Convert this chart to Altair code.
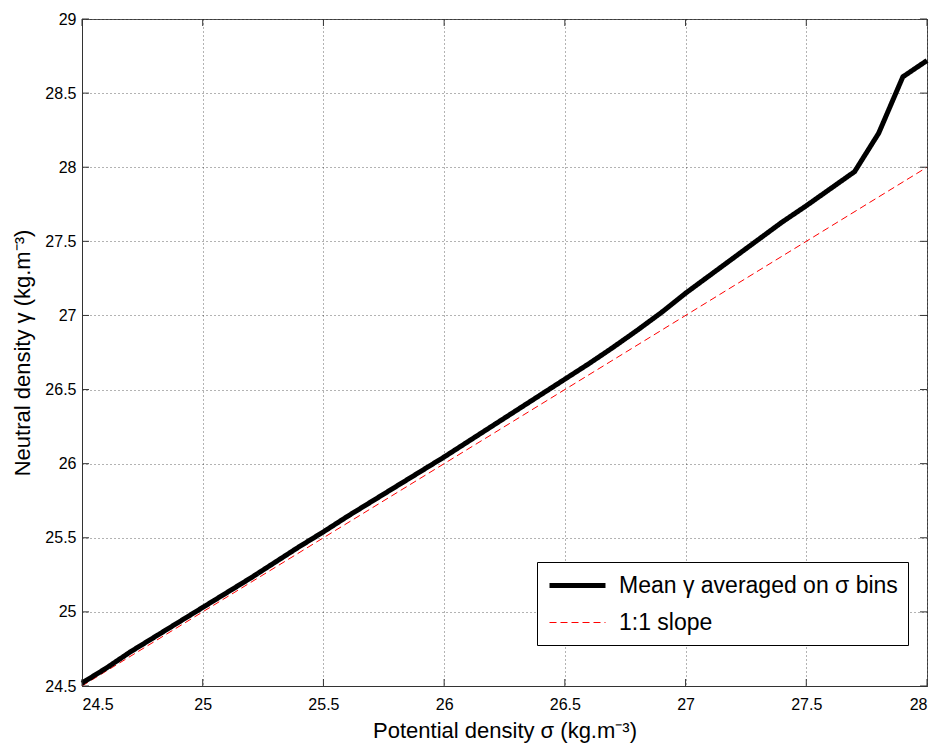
import altair as alt
import pandas as pd

# ---- data ----
sigma = [24.5, 24.6, 24.7, 24.8, 24.9, 25.0, 25.1, 25.2, 25.3, 25.4, 25.5,
         25.6, 25.7, 25.8, 25.9, 26.0, 26.1, 26.2, 26.3, 26.4, 26.5,
         26.6, 26.7, 26.8, 26.9, 27.0, 27.1, 27.2, 27.3, 27.4, 27.5,
         27.6, 27.7, 27.8, 27.9, 28.0]
gamma_mean = [24.52, 24.62, 24.73, 24.83, 24.93, 25.03, 25.13, 25.23, 25.335, 25.44, 25.54,
              25.645, 25.745, 25.845, 25.945, 26.045, 26.15, 26.255, 26.36, 26.465, 26.57,
              26.675, 26.785, 26.9, 27.02, 27.15, 27.27, 27.39, 27.51, 27.63, 27.74,
              27.855, 27.97, 28.23, 28.61, 28.72]
slope_x = [24.5, 28.0]
slope_y = [24.5, 28.0]
x_ticks = [24.5, 25.0, 25.5, 26.0, 26.5, 27.0, 27.5, 28.0]
y_ticks = [24.5, 25.0, 25.5, 26.0, 26.5, 27.0, 27.5, 28.0, 28.5, 29.0]
series_names = ["Mean γ averaged on σ bins", "1:1 slope"]

W, H = 845, 667
FONT = "Liberation Sans"

mean_df = pd.DataFrame({"sigma": sigma, "gamma": gamma_mean, "series": series_names[0]})
slope_df = pd.DataFrame({"sigma": slope_x, "gamma": slope_y, "series": series_names[1]})
xt_df = pd.DataFrame({"sigma": x_ticks})
yt_df = pd.DataFrame({"gamma": y_ticks})

xscale = alt.Scale(domain=[24.5, 28.0], nice=False, zero=False)
yscale = alt.Scale(domain=[24.5, 29.0], nice=False, zero=False)

legend = alt.Legend(
    title=None, orient="none", legendX=455, legendY=543,
    symbolType="M-1,0H4.09", symbolSize=484,
    labelFontSize=23, labelFont=FONT, labelColor="#000", labelOffset=45, labelLimit=500,
    padding=10, rowPadding=13, strokeColor="#000", fillColor="#ffffff",
)
color = alt.Color("series:N", scale=alt.Scale(domain=series_names, range=["#000000", "#ff0000"]), legend=legend)
dash = alt.StrokeDash("series:N", scale=alt.Scale(domain=series_names, range=[[1, 0], [7, 4]]), legend=legend)
width_enc = alt.StrokeWidth("series:N", scale=alt.Scale(type="point", domain=series_names, range=[5, 1], padding=0), legend=legend)

x_axis = alt.Axis(values=x_ticks, format="~g", title="Potential density σ (kg.m⁻³)",
                  grid=True, labelPadding=10, titlePadding=8)
y_axis = alt.Axis(values=y_ticks, format="~g", title="Neutral density γ (kg.m⁻³)",
                  grid=True, labelPadding=6, titlePadding=10)

X = alt.X("sigma:Q", scale=xscale, axis=x_axis)
Y = alt.Y("gamma:Q", scale=yscale, axis=y_axis)

slope = alt.Chart(slope_df).mark_line().encode(
    x=X, y=Y, color=color, strokeDash=dash, strokeWidth=width_enc,
)
mean = alt.Chart(mean_df).mark_line(strokeJoin="miter").encode(
    x=X, y=Y, color=color, strokeDash=dash, strokeWidth=width_enc,
)

tick_len = 7
tick_color = "#333"
bot = alt.Chart(xt_df).mark_rule(color=tick_color).encode(
    x=X, y=alt.value(H), y2=alt.value(H - tick_len))
top = alt.Chart(xt_df).mark_rule(color=tick_color).encode(
    x=X, y=alt.value(0), y2=alt.value(tick_len))
left = alt.Chart(yt_df).mark_rule(color=tick_color).encode(
    y=Y, x=alt.value(0), x2=alt.value(tick_len))
right = alt.Chart(yt_df).mark_rule(color=tick_color).encode(
    y=Y, x=alt.value(W), x2=alt.value(W - tick_len))

chart = alt.layer(slope, mean, bot, top, left, right).properties(
    width=W, height=H,
    autosize=alt.AutoSizeParams(type="none"),
    padding={"left": 74, "top": 11, "right": 4, "bottom": 57},
).configure_view(
    stroke="#555", strokeWidth=1
).configure_axis(
    domainColor="#333", domainWidth=1, tickSize=0,
    labelFont=FONT, labelFontSize=16, labelColor="#000",
    titleFont=FONT, titleFontSize=22, titleFontWeight="normal", titleColor="#000",
    gridColor="#000", gridDash=[1, 3], gridOpacity=0.6, gridWidth=1,
)

chart.save("out.html", embed_options={"renderer": "svg", "actions": False})
